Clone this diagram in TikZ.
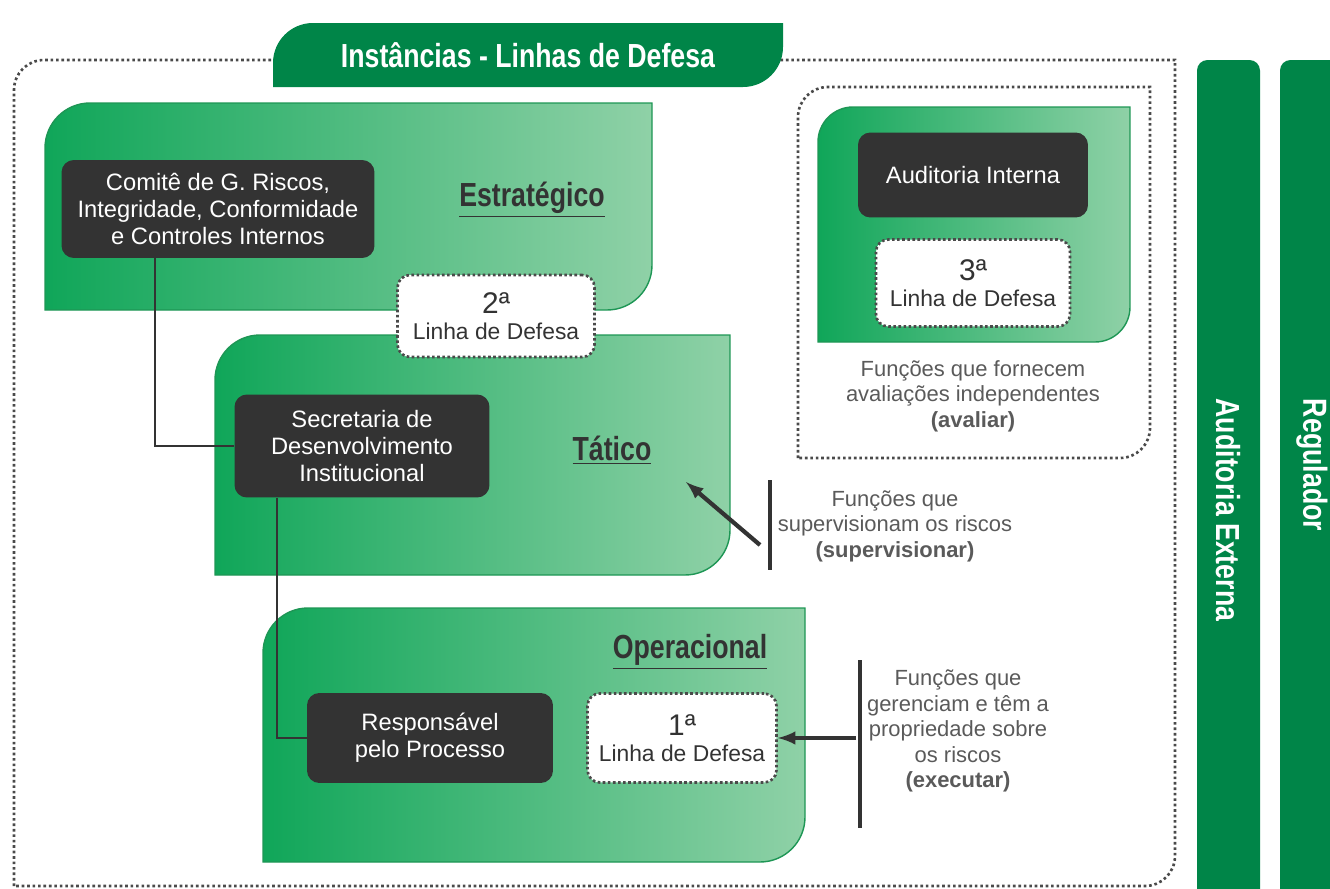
\documentclass[tikz,border=0pt]{standalone}
\usepackage{fontspec}
\setmainfont{Liberation Sans}
\newfontfamily\condfont[FakeStretch=0.8]{Liberation Sans}
\usetikzlibrary{calc}

\definecolor{bannergreen}{HTML}{008548}
\definecolor{paneldark}{HTML}{10A659}
\definecolor{panellight}{HTML}{8FD1A7}
\definecolor{paneledge}{HTML}{1E9655}
\definecolor{boxgray}{HTML}{333333}
\definecolor{linegray}{HTML}{4A4A4A}
\definecolor{notegray}{HTML}{5A5A5A}

% shape with the top left and bottom right corners rounded
\newcommand{\cutbox}[6][]{%
  \path[#1] (#2,#5) -- (#2,{#3+#6}) arc[start angle=180,end angle=270,radius=#6]
    -- (#4,#3) -- (#4,{#5-#6}) arc[start angle=0,end angle=90,radius=#6] -- cycle;}

\tikzset{
  panel/.style={draw=paneledge, line width=0.8pt, left color=paneldark, right color=panellight},
  frame/.style={draw=linegray, line width=1.5pt, dash pattern=on 1.5pt off 1.6pt},
  darkbox/.style={fill=boxgray, rounded corners=7pt, text=white, align=center,
    font=\fontsize{13.5}{15.5}\selectfont, inner sep=0pt},
  linebox/.style={fill=white, draw=linegray, line width=1.5pt, dash pattern=on 1.5pt off 1.4pt,
    rounded corners=7pt, text=boxgray, align=center, font=\fontsize{13}{15}\selectfont, inner sep=0pt},
  level/.style={font=\condfont\bfseries\fontsize{19}{22}\selectfont, text=boxgray},
  banner/.style={font=\condfont\bfseries\fontsize{19}{22}\selectfont, text=white},
  note/.style={align=center, text=notegray, font=\fontsize{12.5}{14.5}\selectfont},
  link/.style={draw=boxgray, line width=1.2pt},
  barline/.style={draw=boxgray, line width=2pt},
  pointer/.style={draw=boxgray, line width=2.4pt, ->},
}

\begin{document}
\begin{tikzpicture}[x=0.02cm,y=-0.02cm,>=latex]
\useasboundingbox (0,0) rectangle (1330,889);

% frames and title
\cutbox[frame]{14}{60}{1175}{886}{30}
\cutbox[fill=bannergreen]{273}{23}{783}{87}{40}
\node[banner] (titulo) at (528,55) {Instâncias - Linhas de Defesa};
\cutbox[frame]{798}{87}{1150}{458}{30}

% levels
\cutbox[panel]{45}{103}{652}{310}{45}
\cutbox[panel]{215}{335}{730}{575}{45}
\cutbox[panel]{263}{608}{805}{862}{45}
\cutbox[panel]{818}{107}{1130}{342}{35}

\node[darkbox, minimum width=6.26cm, minimum height=1.96cm] (comite) at (218,209)
  {Comitê de G. Riscos,\\Integridade, Conformidade\\e Controles Internos};
\node[darkbox, minimum width=5.1cm, minimum height=2.06cm] (secretaria) at (362,446)
  {Secretaria de\\Desenvolvimento\\Institucional};
\node[darkbox, minimum width=4.92cm, minimum height=1.8cm] (responsavel) at (430,738)
  {Responsável\\pelo Processo};
\node[darkbox, minimum width=4.6cm, minimum height=1.7cm] (auditoria) at (973,175)
  {Auditoria Interna};

\draw[link] ($(comite.south)+(-63,0)$) |- (secretaria.west);
\draw[link] ($(secretaria.south)+(-85,0)$) |- (responsavel.west);

\node[linebox, minimum width=3.94cm, minimum height=1.64cm] (linha2) at (496,316)
  {{\fontsize{17}{18}\selectfont 2ª}\\Linha de Defesa};
\node[linebox, minimum width=3.78cm, minimum height=1.78cm] (linha1) at (682,738)
  {{\fontsize{17}{18}\selectfont 1ª}\\Linha de Defesa};
\node[linebox, minimum width=3.88cm, minimum height=1.74cm] (linha3) at (973,283)
  {{\fontsize{17}{18}\selectfont 3ª}\\Linha de Defesa};

\node[level] (estrategico) at (532,200) {\underline{Estratégico}};
\node[level] (tatico) at (612,450) {\underline{Tático}};
\node[level] (operacional) at (690,652) {\underline{Operacional}};

% functions
\node[note] (avaliar) at (973,396)
  {Funções que fornecem\\avaliações independentes\\\textbf{(avaliar)}};
\node[note] (supervisionar) at (895,526)
  {Funções que\\supervisionam os riscos\\\textbf{(supervisionar)}};
\node[note] (executar) at (958,731)
  {Funções que\\gerenciam e têm a\\propriedade sobre\\os riscos\\\textbf{(executar)}};

\draw[barline] (770,480) -- (770,570);
\draw[barline] (860,660) -- (860,828);
\coordinate (supTail) at (760,545);
\coordinate (supTip) at (686,482);
\coordinate (exeTail) at (856,738);
\draw[pointer] (supTail) -- (supTip);
\draw[pointer] (exeTail) -- (linha1.east);

% external bars
\fill[bannergreen, rounded corners=6pt] (1197,60) rectangle (1260,910);
\fill[bannergreen, rounded corners=6pt] (1280,60) rectangle (1350,910);
\node[banner, rotate=-90] (externa) at (1228,510) {Auditoria Externa};
\node[banner, rotate=-90] (regulador) at (1312,465) {Regulador};
\end{tikzpicture}
\end{document}
